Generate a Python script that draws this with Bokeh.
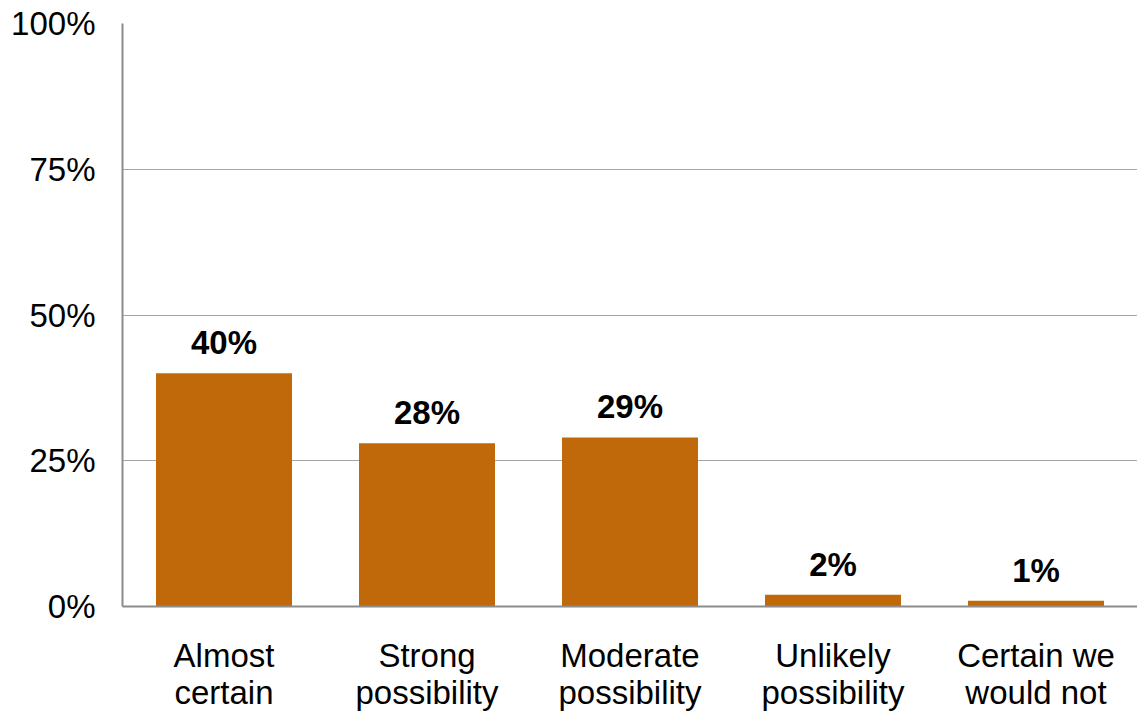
from bokeh.plotting import figure
from bokeh.models import ColumnDataSource, FixedTicker, LabelSet
from bokeh.core.properties import value
from bokeh.embed import file_html
from bokeh.resources import INLINE

categories = ["Almost\ncertain", "Strong\npossibility", "Moderate\npossibility", "Unlikely\npossibility", "Certain we\nwould not"]
values = [40, 28, 29, 2, 1]
labels = ["40%", "28%", "29%", "2%", "1%"]
y_ticks = [0, 25, 50, 75, 100]

src = ColumnDataSource(dict(cat=categories, val=values, lab=labels))

p = figure(x_range=categories, y_range=(0, 100), width=1137, height=714,
           output_backend="svg", toolbar_location=None,
           min_border_left=122, min_border_right=0, min_border_top=23, min_border_bottom=108)
p.outline_line_color = None
p.vbar(x="cat", top="val", width=0.67, source=src, color="#C0690A", line_color=None)

lbl = LabelSet(x="cat", y="val", text="lab", source=src, text_align="center", text_baseline="bottom",
               y_offset=12, text_font=value("Liberation Sans"), text_font_style="bold",
               text_font_size="33px", text_color="black")
p.add_layout(lbl)

p.yaxis.ticker = FixedTicker(ticks=y_ticks)
p.yaxis.major_label_overrides = {t: f"{t}%" for t in y_ticks}
p.yaxis.major_tick_line_color = None
p.yaxis.minor_tick_line_color = None
p.yaxis.axis_line_color = "#8C8C8C"
p.yaxis.axis_line_width = 2
p.yaxis.major_label_text_font = "Liberation Sans"
p.yaxis.major_label_text_font_size = "33px"
p.yaxis.major_label_text_color = "black"
p.yaxis.major_label_standoff = 21

p.xaxis.major_tick_line_color = None
p.xaxis.axis_line_color = "#8C8C8C"
p.xaxis.axis_line_width = 2
p.xaxis.major_label_text_font = "Liberation Sans"
p.xaxis.major_label_text_font_size = "33px"
p.xaxis.major_label_text_color = "black"
p.xaxis.major_label_text_line_height = 1.0
p.xaxis.major_label_standoff = 24

p.xgrid.grid_line_color = None
p.ygrid.grid_line_color = "#A6A6A6"
p.ygrid.grid_line_width = 1
p.x_range.range_padding = 0
p.background_fill_color = "white"

open("out.html", "w").write(file_html(p, INLINE))
